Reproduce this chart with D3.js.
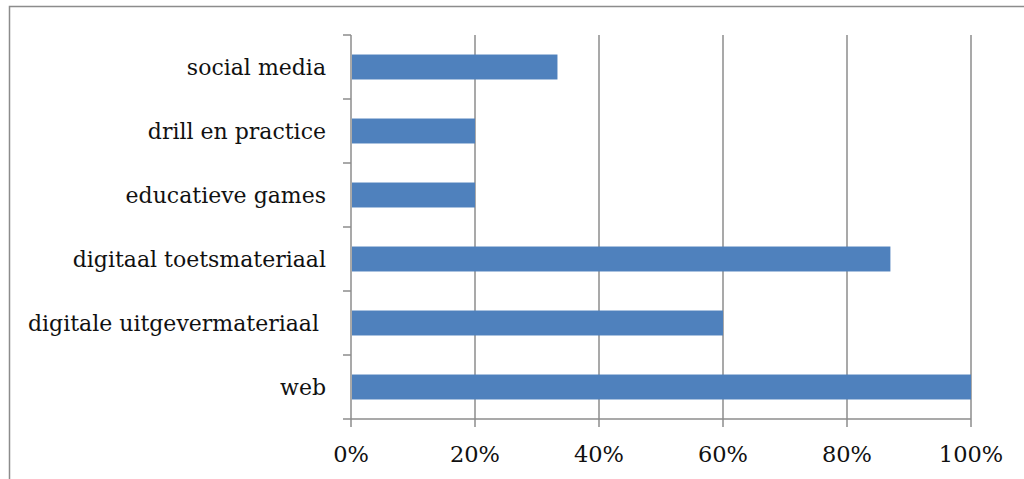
<!DOCTYPE html>
<html>
<head>
<meta charset="utf-8">
<script src="https://cdn.jsdelivr.net/npm/d3@7"></script>
<style>
  html, body { margin: 0; padding: 0; background: #fff; }
  svg { display: block; }
</style>
</head>
<body>
<svg id="chart" width="1024" height="479"></svg>
<script>
// Categories listed top to bottom, with their shares (fraction of respondents)
const categories = [
  "social media",
  "drill en practice",
  "educatieve games",
  "digitaal toetsmateriaal",
  "digitale uitgevermateriaal ",
  "web"
];
const values = [0.333, 0.20, 0.20, 0.87, 0.60, 1.00];
const tickValues = [0, 0.2, 0.4, 0.6, 0.8, 1.0];

const svg = d3.select("#chart");
const W = 1024, H = 479;
const margin = { left: 351, right: 53, top: 35, bottom: 60 };
const plotW = W - margin.left - margin.right;
const plotH = H - margin.top - margin.bottom;

const gridColor = "#8c8c8c";
const barColor = "#4f81bd";
const fontFamily = "'DejaVu Serif', serif";

// Outer chart frame
svg.append("rect")
  .attr("x", 9.5).attr("y", 6.5)
  .attr("width", W + 20).attr("height", H + 20)
  .attr("fill", "none")
  .attr("stroke", gridColor)
  .attr("stroke-width", 1.5);

const x = d3.scaleLinear().domain([0, 1]).range([0, plotW]);
const y = d3.scaleBand().domain(categories).range([0, plotH]).paddingInner(0.61).paddingOuter(0.305);
const yEdges = d3.scaleLinear().domain([0, categories.length]).range([0, plotH]);

const g = svg.append("g").attr("transform", `translate(${margin.left},${margin.top})`);

// Vertical gridlines, extended below the axis as tick marks
g.append("g")
  .selectAll("line")
  .data(tickValues.slice(1))
  .join("line")
  .attr("x1", d => x(d)).attr("x2", d => x(d))
  .attr("y1", 0).attr("y2", plotH + 8)
  .attr("stroke", gridColor)
  .attr("stroke-width", 1.5);

// Bars
g.append("g")
  .selectAll("rect")
  .data(categories)
  .join("rect")
  .attr("x", 1)
  .attr("y", d => y(d))
  .attr("width", (d, i) => x(values[i]) - 1)
  .attr("height", y.bandwidth())
  .attr("fill", barColor);

// Category axis with ticks at band boundaries
const yAxisG = g.append("g");
yAxisG.append("line")
  .attr("x1", 0).attr("x2", 0)
  .attr("y1", 0).attr("y2", plotH + 8)
  .attr("stroke", gridColor).attr("stroke-width", 1.5);
yAxisG.selectAll("line.tick")
  .data(d3.range(categories.length + 1))
  .join("line")
  .attr("class", "tick")
  .attr("x1", -8).attr("x2", 0)
  .attr("y1", d => yEdges(d)).attr("y2", d => yEdges(d))
  .attr("stroke", gridColor).attr("stroke-width", 1.5);

yAxisG.selectAll("text")
  .data(categories)
  .join("text")
  .attr("x", -25)
  .attr("y", d => y(d) + y.bandwidth() / 2)
  .attr("dy", "0.35em")
  .attr("text-anchor", "end")
  .attr("font-family", fontFamily)
  .attr("font-size", 22)
  .attr("fill", "#111")
  .style("white-space", "pre")
  .text(d => d);

// Value axis along the bottom
const xAxisG = g.append("g").attr("transform", `translate(0,${plotH})`);
xAxisG.append("line")
  .attr("x1", 0).attr("x2", plotW)
  .attr("stroke", gridColor).attr("stroke-width", 1.5);
xAxisG.selectAll("text")
  .data(tickValues)
  .join("text")
  .attr("x", d => x(d))
  .attr("y", 43)
  .attr("text-anchor", "middle")
  .attr("font-family", fontFamily)
  .attr("font-size", 22.5)
  .attr("fill", "#111")
  .text(d3.format(".0%"));
</script>
</body>
</html>
